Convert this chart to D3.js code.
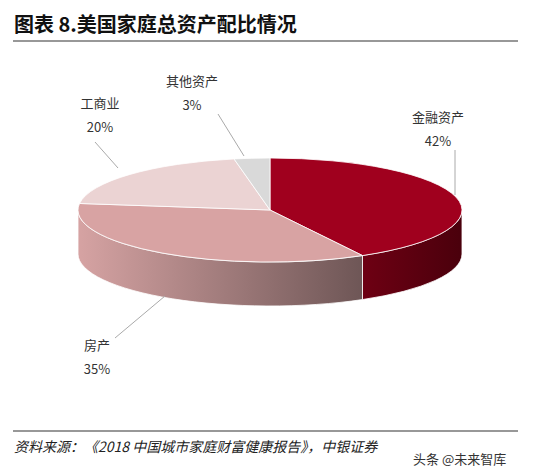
<!DOCTYPE html>
<html>
<head>
<meta charset="utf-8" />
<script src="https://d3js.org/d3.v7.min.js"></script>
<style>body{margin:0;background:#fff}</style>
</head>
<body>
<svg id="chart" width="542" height="474"></svg>
<script>
// 数据
const categories = ["金融资产", "房产", "工商业", "其他资产"];
const values = [42, 35, 20, 3];
const labels = ["42%", "35%", "20%", "3%"];

const svg = d3.select("#chart");
const font = "'Noto Sans CJK SC', sans-serif";
const cx = 270, cy = 210, rx = 192, ry = 52, depth = 44;

// 标题与横线
svg.append("text").attr("x", 14).attr("y", 32).attr("font-family", font)
  .attr("font-size", 20).attr("font-weight", "bold").attr("fill", "#111")
  .text("图表 8.美国家庭总资产配比情况");
svg.append("line").attr("x1", 13).attr("x2", 518).attr("y1", 41).attr("y2", 41)
  .attr("stroke", "#333").attr("stroke-width", 1.2);
svg.append("line").attr("x1", 13).attr("x2", 518).attr("y1", 431).attr("y2", 431)
  .attr("stroke", "#333").attr("stroke-width", 1.2);
svg.append("text").attr("x", 14).attr("y", 452).attr("font-family", font)
  .attr("font-size", 14).attr("font-style", "italic").attr("fill", "#222")
  .text("资料来源：《2018 中国城市家庭财富健康报告》，中银证券");
svg.append("text").attr("x", 413).attr("y", 464).attr("font-family", font)
  .attr("font-size", 13).attr("fill", "#333").text("头条 @未来智库");

const topColors = ["#A0001E", "#D8A3A3", "#EBD3D3", "#D9D9D9"];
const sideFrom = ["#6E0013", "#D6A3A3", "#E2C6C6", "#BBBBBB"];
const sideTo = ["#4A000C", "#6E5656", "#9a8a8a", "#999999"];

const defs = svg.append("defs");
categories.forEach((c, i) => {
  const g = defs.append("linearGradient").attr("id", "side" + i);
  g.append("stop").attr("offset", "0%").attr("stop-color", sideFrom[i]);
  g.append("stop").attr("offset", "100%").attr("stop-color", sideTo[i]);
});

const arcs = d3.pie().sort(null)(values);
const pt = (a, dy = 0) => [cx + rx * Math.sin(a), cy - ry * Math.cos(a) + dy];

// 侧面
arcs.forEach((d, i) => {
  const a0 = Math.max(d.startAngle, Math.PI / 2);
  const a1 = Math.min(d.endAngle, 3 * Math.PI / 2);
  if (a1 <= a0) return;
  const p0 = pt(a0), p1 = pt(a1), q1 = pt(a1, depth), q0 = pt(a0, depth);
  const path = `M${p0}A${rx},${ry} 0 0 1 ${p1}L${q1}A${rx},${ry} 0 0 0 ${q0}Z`;
  svg.append("path").attr("d", path).attr("fill", `url(#side${i})`)
    .attr("stroke", "#fff").attr("stroke-width", 0.8);
});

// 顶面
arcs.forEach((d, i) => {
  const p0 = pt(d.startAngle), p1 = pt(d.endAngle);
  const large = d.endAngle - d.startAngle > Math.PI ? 1 : 0;
  svg.append("path")
    .attr("d", `M${cx},${cy}L${p0}A${rx},${ry} 0 ${large} 1 ${p1}Z`)
    .attr("fill", topColors[i]).attr("stroke", "#fff").attr("stroke-width", 0.8);
});

// 标签与引线
const labelPos = [
  { x: 438, y: 122, line: [[455, 150], [455, 195]] },
  { x: 97, y: 350, line: [[115, 338], [165, 296]] },
  { x: 100, y: 108, line: [[95, 142], [118, 168]] },
  { x: 192, y: 86, line: [[218, 114], [244, 156]] }
];
labelPos.forEach((p, i) => {
  svg.append("polyline").attr("points", p.line.join(" "))
    .attr("fill", "none").attr("stroke", "#aaa").attr("stroke-width", 1);
  svg.append("text").attr("x", p.x).attr("y", p.y).attr("text-anchor", "middle")
    .attr("font-family", font).attr("font-size", 13).attr("fill", "#333")
    .text(categories[i]);
  svg.append("text").attr("x", p.x).attr("y", p.y + 24).attr("text-anchor", "middle")
    .attr("font-family", font).attr("font-size", 13).attr("fill", "#333")
    .text(labels[i]);
});
</script>
</body>
</html>
